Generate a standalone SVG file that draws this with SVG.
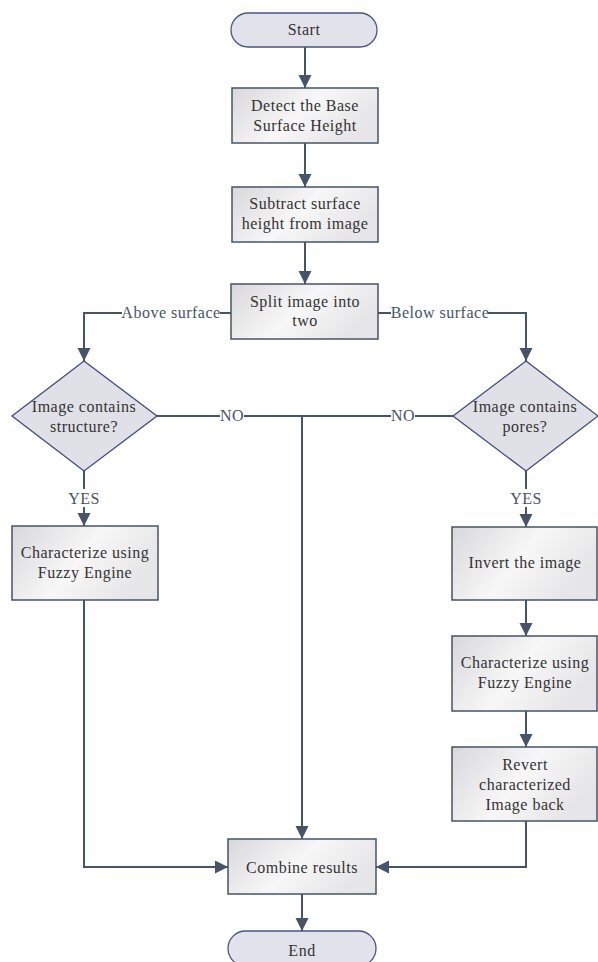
<svg xmlns="http://www.w3.org/2000/svg" width="598" height="962" viewBox="0 0 598 962">
<style>
.t{font-family:"Liberation Serif","Times New Roman",serif;font-size:16px;letter-spacing:0.5px;fill:#333;text-anchor:middle}
.l{font-family:"Liberation Serif","Times New Roman",serif;font-size:16px;letter-spacing:0.5px;fill:#44546a;text-anchor:middle}
.box{fill:url(#g);stroke:#44546a;stroke-width:1.5}
.term{fill:#e2e2ea;stroke:#4a5488;stroke-width:1.3}
.dia{fill:#e0e0e7;stroke:#3f4a80;stroke-width:1.3}
.c{fill:none;stroke:#44546a;stroke-width:2}
.a{marker-end:url(#m)}
.bg{fill:#fff}
</style>
<defs>
<linearGradient id="g" x1="0" y1="0" x2="1" y2="0.4">
<stop offset="0" stop-color="#d8d8db"/>
<stop offset="0.55" stop-color="#f7f7f7"/>
<stop offset="1" stop-color="#e6e6e8"/>
</linearGradient>
<marker id="m" markerUnits="userSpaceOnUse" markerWidth="14" markerHeight="14" refX="13" refY="6.5" orient="auto">
<path d="M0,0 L13,6.5 L0,13 z" fill="#44546a"/>
</marker>
</defs>
<g id="connectors">
<path class="c a" d="M305,47 V88"/>
<path class="c a" d="M305,143 V187"/>
<path class="c a" d="M305,242 V284"/>
<path class="c a" d="M231,313 H84 V361"/>
<path class="c a" d="M378,313 H526 V361"/>
<path class="c a" d="M84,471 V526"/>
<path class="c a" d="M526,471 V527"/>
<path class="c" d="M157,416 H453"/>
<path class="c a" d="M302,416 V839"/>
<path class="c a" d="M526,600 V636"/>
<path class="c a" d="M526,711 V747"/>
<path class="c a" d="M84,600 V867 H228"/>
<path class="c a" d="M526,821 V867 H376"/>
<path class="c a" d="M302,894 V931"/>
<rect class="bg" x="122" y="303" width="98" height="20"/>
<text class="l" x="171" y="318">Above surface</text>
<rect class="bg" x="391" y="303" width="97" height="20"/>
<text class="l" x="440" y="318">Below surface</text>
<rect class="bg" x="220" y="406" width="24" height="20"/>
<text class="l" x="232" y="421">NO</text>
<rect class="bg" x="391" y="406" width="24" height="20"/>
<text class="l" x="403" y="421">NO</text>
<rect class="bg" x="68" y="489" width="32" height="18"/>
<text class="l" x="84" y="504">YES</text>
<rect class="bg" x="510" y="489" width="32" height="18"/>
<text class="l" x="526" y="504">YES</text>
</g>
<g id="start"><rect class="term" x="231" y="13" width="146" height="34" rx="17"/><text class="t" x="304" y="35">Start</text></g>
<g id="detect"><rect class="box" x="232" y="88" width="146" height="55"/><text class="t" x="305" y="111">Detect the Base</text><text class="t" x="305" y="131">Surface Height</text></g>
<g id="subtract"><rect class="box" x="232" y="187" width="146" height="55"/><text class="t" x="305" y="209">Subtract surface</text><text class="t" x="305" y="229">height from image</text></g>
<g id="split"><rect class="box" x="231" y="284" width="147" height="55"/><text class="t" x="305" y="307">Split image into</text><text class="t" x="305" y="326">two</text></g>
<g id="dec-structure"><polygon class="dia" points="84,361 157,416 84,471 12,416"/><text class="t" x="84" y="412">Image contains</text><text class="t" x="84" y="432">structure?</text></g>
<g id="dec-pores"><polygon class="dia" points="526,361 598,416 526,471 453,416"/><text class="t" x="525" y="412">Image contains</text><text class="t" x="525" y="432">pores?</text></g>
<g id="char-left"><rect class="box" x="12" y="526" width="146" height="74"/><text class="t" x="85" y="558">Characterize using</text><text class="t" x="85" y="578">Fuzzy Engine</text></g>
<g id="invert"><rect class="box" x="452" y="527" width="145" height="73"/><text class="t" x="525" y="568">Invert the image</text></g>
<g id="char-right"><rect class="box" x="452" y="636" width="145" height="75"/><text class="t" x="525" y="668">Characterize using</text><text class="t" x="525" y="688">Fuzzy Engine</text></g>
<g id="revert"><rect class="box" x="452" y="747" width="145" height="74"/><text class="t" x="525" y="770">Revert</text><text class="t" x="525" y="790">characterized</text><text class="t" x="525" y="810">Image back</text></g>
<g id="combine"><rect class="box" x="228" y="839" width="148" height="55"/><text class="t" x="302" y="873">Combine results</text></g>
<g id="end"><rect class="term" x="228" y="931" width="148" height="35" rx="17.5"/><text class="t" x="302" y="956">End</text></g>
</svg>
